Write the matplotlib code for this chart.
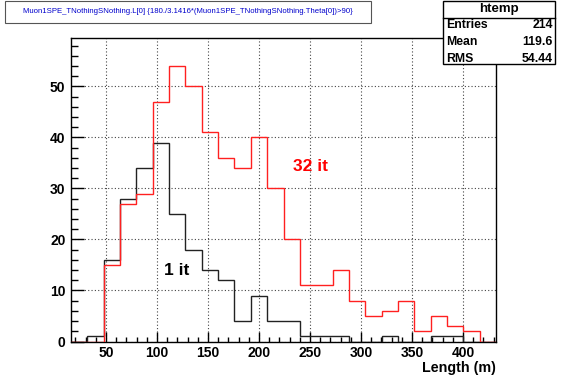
import matplotlib
matplotlib.use("Agg")
import matplotlib.pyplot as plt
import numpy as np

plt.rcParams["font.family"] = ["Liberation Sans", "DejaVu Sans"]

# histogram binning (htemp): 26 bins over the Length range
x_lo, x_hi, n_bins = 15.7, 432.3, 26
edges = np.linspace(x_lo, x_hi, n_bins + 1)

# counts per bin
counts_1it = [0, 1, 16, 28, 34, 39, 25, 18, 14, 12, 4, 9, 4, 4,
              1, 1, 1, 0, 0, 1, 0, 0, 1, 1, 0, 0]
counts_32it = [0, 0, 15, 27, 29, 47, 54, 50, 41, 36, 34, 40, 30, 20,
               11, 11, 14, 8, 5, 6, 8, 2, 5, 3, 2, 0]

title_text = "Muon1SPE_TNothingSNothing.L[0] {180./3.1416*(Muon1SPE_TNothingSNothing.Theta[0])>90}"
stats_name = "htemp"
stats_rows = [("Entries", "214"), ("Mean", "119.6"), ("RMS", "54.44")]

x_ticks = [50, 100, 150, 200, 250, 300, 350, 400]
y_ticks = [0, 10, 20, 30, 40, 50]

W, H = 567, 384
fig = plt.figure(figsize=(W / 100, H / 100), dpi=100)
ax = fig.add_axes([71 / W, 1 - 341.5 / H, (496 - 71) / W, (341.5 - 37.5) / H])

ax.stairs(counts_1it, edges, color="#222222", linewidth=1.0, zorder=3)
ax.stairs(counts_32it, edges, color="#ff2020", linewidth=1.0, zorder=4)

ax.set_xlim(x_lo, x_hi)
ax.set_ylim(0, 59.6)

ax.set_xticks(x_ticks)
ax.set_yticks(y_ticks)
ax.set_xticks(np.arange(20, 431, 10), minor=True)
ax.set_yticks(np.arange(0, 59, 2), minor=True)
ax.tick_params(axis="x", which="major", direction="in", length=7, width=1, pad=3,
               labelsize=10, top=False)
ax.tick_params(axis="x", which="minor", direction="in", length=3.5, width=1, top=False)
ax.tick_params(axis="y", which="major", direction="in", length=9.5, width=1, pad=4,
               labelsize=10, right=False)
ax.tick_params(axis="y", which="minor", direction="in", length=5, width=1, right=False)
for lbl in ax.get_xticklabels() + ax.get_yticklabels():
    lbl.set_fontweight("bold")

ax.grid(True, which="major", color="#444444", linestyle=(0, (1, 2)), linewidth=0.8)
ax.set_axisbelow(True)
for s in ax.spines.values():
    s.set_linewidth(1.0)
    s.set_color("black")

ax.set_xlabel("Length (m)", fontsize=10.3, fontweight="bold", loc="right", labelpad=1)

ax.text(250, 34.4, "32 it", color="#ff0000", fontsize=12.5, fontweight="bold",
        ha="center", va="center")
ax.text(119, 14, "1 it", color="black", fontsize=12.5, fontweight="bold",
        ha="center", va="center")

# title box
tx0, ty0, tx1, ty1 = 5, 1, 371, 22.5
fig.patches.append(plt.Rectangle((tx0 / W, 1 - ty1 / H), (tx1 - tx0) / W, (ty1 - ty0) / H,
                                 transform=fig.transFigure, facecolor="white",
                                 edgecolor="#555555", linewidth=0.8))
fig.text((tx0 + tx1) / 2 / W, 1 - 11.5 / H, title_text, color="#0000cc", fontsize=5.6,
         ha="center", va="center")

# stats box
sx0, sy0, sx1, sy1 = 443, 1, 555, 63.5
fig.patches.append(plt.Rectangle((sx0 / W, 1 - sy1 / H), (sx1 - sx0) / W, (sy1 - sy0) / H,
                                 transform=fig.transFigure, facecolor="white",
                                 edgecolor="black", linewidth=1.0, zorder=5))
fig.add_artist(plt.Line2D([sx0 / W, sx1 / W], [1 - 17.5 / H, 1 - 17.5 / H],
                          transform=fig.transFigure, color="black", linewidth=1.0, zorder=6))
fig.text((sx0 + sx1) / 2 / W, 1 - 9 / H, stats_name, fontsize=9.5, fontweight="bold",
         ha="center", va="center", zorder=7)
for i, (name, val) in enumerate(stats_rows):
    yy = 1 - (25.5 + 16.5 * i) / H
    fig.text(446 / W, yy, name, fontsize=8.8, fontweight="bold", ha="left", va="center", zorder=7)
    fig.text(553 / W, yy, val, fontsize=8.8, fontweight="bold", ha="right", va="center", zorder=7)

fig.savefig("out.png", dpi=100)
